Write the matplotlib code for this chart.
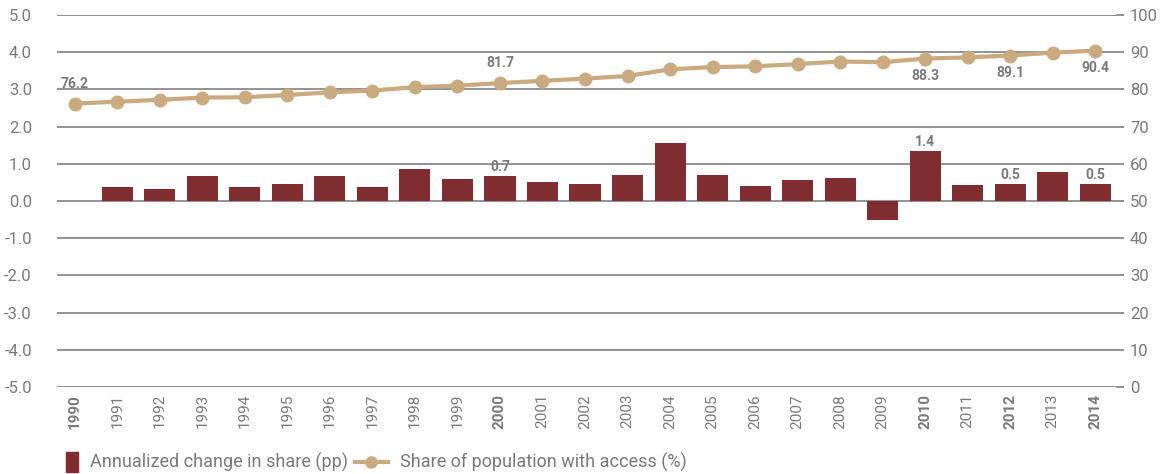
import numpy as np
import matplotlib.pyplot as plt

# ---- data ----
years = list(range(1990, 2015))
change_pp = [np.nan, 0.38, 0.32, 0.67, 0.38, 0.46, 0.67, 0.38, 0.86, 0.59,
             0.67, 0.51, 0.46, 0.70, 1.56, 0.70, 0.40, 0.57, 0.62, -0.51,
             1.34, 0.43, 0.45, 0.78, 0.46]
share_access = [76.2, 76.7, 77.2, 77.8, 77.9, 78.5, 79.2, 79.7, 80.6, 81.0,
                81.7, 82.3, 82.9, 83.6, 85.4, 86.0, 86.2, 86.8, 87.5, 87.3,
                88.3, 88.6, 89.1, 89.9, 90.4]
bold_years = [1990, 2000, 2010, 2012, 2014]
bar_labels = {2000: '0.7', 2010: '1.4', 2012: '0.5', 2014: '0.5'}
line_labels_above = {1990: '76.2', 2000: '81.7'}
line_labels_below = {2010: '88.3', 2012: '89.1', 2014: '90.4'}

BAR_C = '#7f2d30'
LINE_C = '#c9ab7f'
TXT_C = '#7a7a7a'
GRID_C = '#8a8a8a'

plt.rcParams['font.family'] = ['Roboto', 'DejaVu Sans']

fig = plt.figure(figsize=(11.63, 4.74), dpi=100)
ax = fig.add_axes([57 / 1163, 1 - 387 / 474, (1116 - 57) / 1163, (387 - 15) / 474])
ax2 = ax.twinx()

x = np.arange(len(years))
ax.bar(x, change_pp, width=0.73, color=BAR_C, zorder=3)
ax.set_ylim(-5, 5)
ax.set_yticks(np.arange(-5, 5.1, 1))
ax.set_yticklabels([f'{v:.1f}' for v in np.arange(-5, 5.1, 1)])
ax.set_xlim(-0.42, len(years) - 0.51)
ax.set_xticks(x)
ax.set_xticklabels([str(y) for y in years], rotation=90)
for lbl, y in zip(ax.get_xticklabels(), years):
    if y in bold_years:
        lbl.set_fontweight('bold')

for i, y in enumerate(years):
    if y in bar_labels:
        ax.text(i, change_pp[i] + 0.06, bar_labels[y], ha='center', va='bottom',
                fontsize=10, fontweight='bold', color=TXT_C, zorder=5)

ax.grid(axis='y', color=GRID_C, lw=1.3, zorder=0)
ax.set_axisbelow(True)

ax2.plot(x, share_access, color=LINE_C, lw=3, marker='o', ms=9, zorder=4)
ax2.set_ylim(0, 100)
ax2.set_yticks(range(0, 101, 10))
for i, y in enumerate(years):
    if y in line_labels_above:
        ax2.text(i, share_access[i] + 3.4, line_labels_above[y], ha='center', va='bottom',
                 fontsize=10, fontweight='bold', color=TXT_C)
    if y in line_labels_below:
        ax2.text(i, share_access[i] - 2.8, line_labels_below[y], ha='center', va='top',
                 fontsize=10, fontweight='bold', color=TXT_C)

for a in (ax, ax2):
    for s in a.spines.values():
        s.set_visible(False)
ax.tick_params(axis='y', length=0, pad=18, labelsize=12, labelcolor=TXT_C)
ax.tick_params(axis='x', length=0, pad=5, labelsize=11, labelcolor=TXT_C)
ax2.tick_params(axis='y', length=6, width=1.3, color=GRID_C, pad=4, labelsize=12, labelcolor=TXT_C)

# legend
leg_y = 1 - 462 / 474
fig.patches.append(plt.Rectangle((66 / 1163, 1 - 472 / 474), 12 / 1163, 20 / 474,
                                 transform=fig.transFigure, color=BAR_C))
fig.text(90 / 1163, leg_y, 'Annualized change in share (pp)',
         fontsize=13, color=TXT_C, va='center')
fig.lines.append(plt.Line2D([355 / 1163, 388 / 1163], [leg_y] * 2, transform=fig.transFigure,
                            color=LINE_C, lw=3))
fig.lines.append(plt.Line2D([371 / 1163], [leg_y], transform=fig.transFigure,
                            color=LINE_C, marker='o', ms=8, lw=0))
fig.text(400 / 1163, leg_y, 'Share of population with access (%)',
         fontsize=13, color=TXT_C, va='center')

fig.savefig('out.png', dpi=100)
